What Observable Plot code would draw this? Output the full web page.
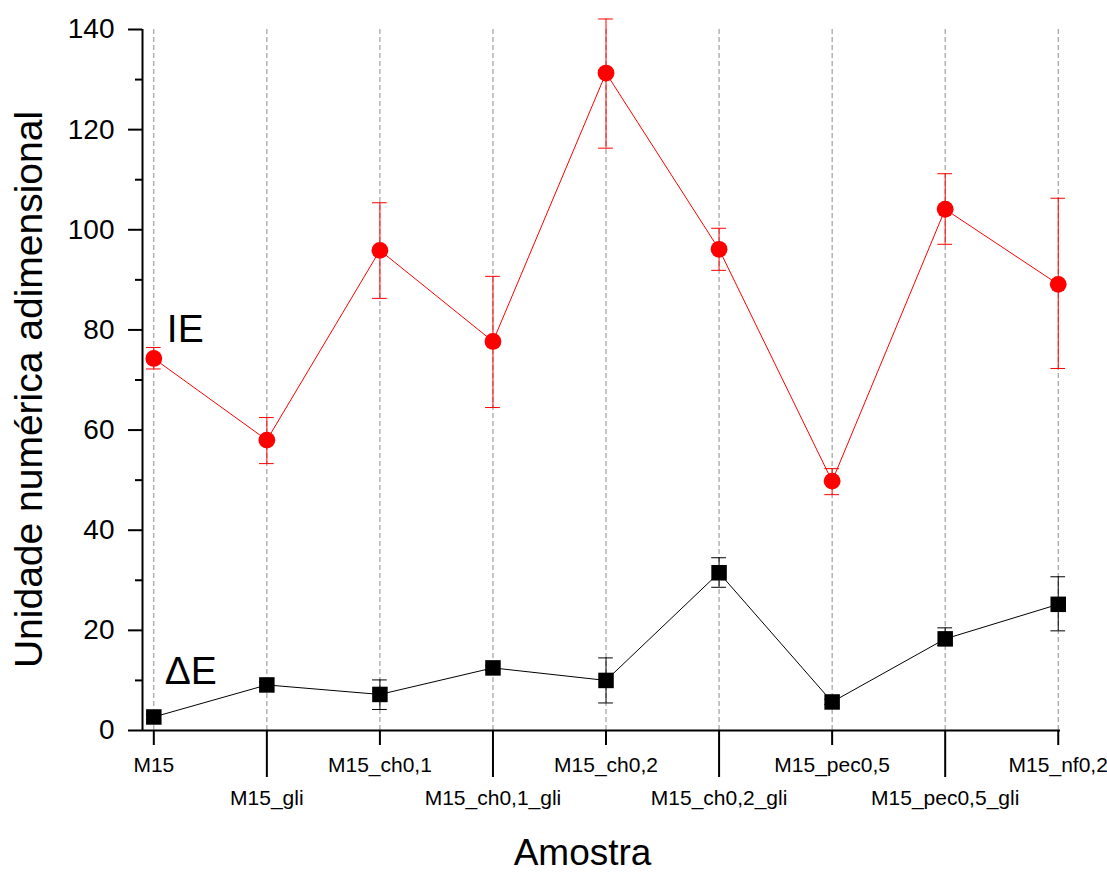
<!DOCTYPE html>
<html><head><meta charset="utf-8">
<script src="https://cdn.jsdelivr.net/npm/d3@7"></script>
<script src="https://cdn.jsdelivr.net/npm/@observablehq/plot@0.6"></script>
<style>html,body{margin:0;padding:0;background:#fff;}</style>
</head><body><div id="chart"></div>
<script>
const categories = ["M15","M15_gli","M15_ch0,1","M15_ch0,1_gli","M15_ch0,2","M15_ch0,2_gli","M15_pec0,5","M15_pec0,5_gli","M15_nf0,2"];
const ieValues = [74.3, 58.0, 95.9, 77.7, 131.3, 96.1, 49.8, 104.1, 89.1];
const ieLow    = [72.2, 53.3, 86.3, 64.5, 116.3, 91.9, 47.1, 97.1, 72.3];
const ieHigh   = [76.5, 62.5, 105.4, 90.7, 142.1, 100.3, 52.3, 111.2, 106.3];
const deValues = [2.7, 9.1, 7.2, 12.5, 10.0, 31.5, 5.7, 18.3, 25.2];
const deLow    = [2.2, 8.5, 4.2, 12.0, 5.5, 28.6, 5.2, 17.0, 19.9];
const deHigh   = [3.2, 9.7, 10.1, 13.0, 14.5, 34.5, 6.2, 20.5, 30.7];
const yMajorTicks = [0, 20, 40, 60, 80, 100, 120, 140];
const yMinorTicks = [10, 30, 50, 70, 90, 110, 130];
const seriesLabels = ["IE", "ΔE"];
const xTitle = "Amostra";
const yTitle = "Unidade numérica adimensional";

const xDomain = [-0.1, 8.02];
const yDomain = [0, 140];
const red = "#ff0000";
const capHalf = 0.065;
const font = "Arial, 'Liberation Sans', sans-serif";

const ie = categories.map((c, i) => ({i, name: c, v: ieValues[i], lo: ieLow[i], hi: ieHigh[i]}));
const de = categories.map((c, i) => ({i, name: c, v: deValues[i], lo: deLow[i], hi: deHigh[i]}));
const idx = categories.map((c, i) => i);
const evenIdx = idx.filter(i => i % 2 === 0);
const oddIdx = idx.filter(i => i % 2 === 1);

const chart = Plot.plot({
  width: 1107, height: 872,
  marginLeft: 142, marginRight: 47, marginTop: 29, marginBottom: 142,
  style: {fontFamily: font, background: "#fff", color: "#000", overflow: "visible"},
  x: {type: "linear", domain: xDomain},
  y: {type: "linear", domain: yDomain},
  marks: [
    Plot.ruleX(idx, {x: d => d, y1: yDomain[0], y2: yDomain[1], stroke: "#8c8c8c", strokeWidth: 1, strokeDasharray: "5,3"}),
    Plot.axisY({ticks: yMajorTicks, tickSize: 14, tickPadding: 14, fontSize: 28, strokeWidth: 2, label: null}),
    Plot.axisY({ticks: yMinorTicks, tickSize: 7, tickFormat: () => "", strokeWidth: 2, label: null}),
    Plot.axisX({ticks: evenIdx, tickFormat: i => categories[i], tickSize: 15, tickPadding: 12, fontSize: 21, strokeWidth: 2, label: null}),
    Plot.axisX({ticks: oddIdx, tickFormat: i => categories[i], tickSize: 47, tickPadding: 13, fontSize: 21, strokeWidth: 2, label: null}),
    Plot.ruleX([xDomain[0]], {y1: yDomain[0], y2: yDomain[1], strokeWidth: 2}),
    Plot.ruleY([yDomain[0]], {x1: xDomain[0], x2: xDomain[1], strokeWidth: 2}),
    // IE series
    Plot.line(ie, {x: "i", y: "v", stroke: red, strokeWidth: 1}),
    Plot.ruleX(ie, {x: "i", y1: "lo", y2: "hi", stroke: red, strokeWidth: 1}),
    Plot.ruleY(ie, {x1: d => d.i - capHalf, x2: d => d.i + capHalf, y: "hi", stroke: red, strokeWidth: 1}),
    Plot.ruleY(ie, {x1: d => d.i - capHalf, x2: d => d.i + capHalf, y: "lo", stroke: red, strokeWidth: 1}),
    Plot.dot(ie, {x: "i", y: "v", r: 8.4, fill: red, stroke: "none"}),
    // ΔE series
    Plot.line(de, {x: "i", y: "v", stroke: "#000", strokeWidth: 1}),
    Plot.ruleX(de, {x: "i", y1: "lo", y2: "hi", stroke: "#000", strokeWidth: 1}),
    Plot.ruleY(de, {x1: d => d.i - capHalf, x2: d => d.i + capHalf, y: "hi", stroke: "#000", strokeWidth: 1}),
    Plot.ruleY(de, {x1: d => d.i - capHalf, x2: d => d.i + capHalf, y: "lo", stroke: "#000", strokeWidth: 1}),
    Plot.dot(de, {x: "i", y: "v", r: 8.75, symbol: "square", fill: "#000", stroke: "none"}),
    // series labels
    Plot.text([ie[0]], {x: "i", y: "v", text: () => seriesLabels[0], dx: 13, dy: -29, textAnchor: "start", lineAnchor: "middle", fontSize: 39, fill: "#000"}),
    Plot.text([de[0]], {x: "i", y: "v", text: () => seriesLabels[1], dx: 11, dy: -45, textAnchor: "start", lineAnchor: "middle", fontSize: 39, fill: "#000"}),
    // axis titles
    Plot.text([yTitle], {frameAnchor: "left", rotate: -90, dx: -112.5, dy: 9.5, textAnchor: "middle", lineAnchor: "middle", fontSize: 39, fill: "#000"}),
    Plot.text([xTitle], {frameAnchor: "bottom", dx: -19, dy: 123, textAnchor: "middle", lineAnchor: "middle", fontSize: 37, fill: "#000"})
  ]
});
document.getElementById("chart").appendChild(chart);
</script>
</body></html>
